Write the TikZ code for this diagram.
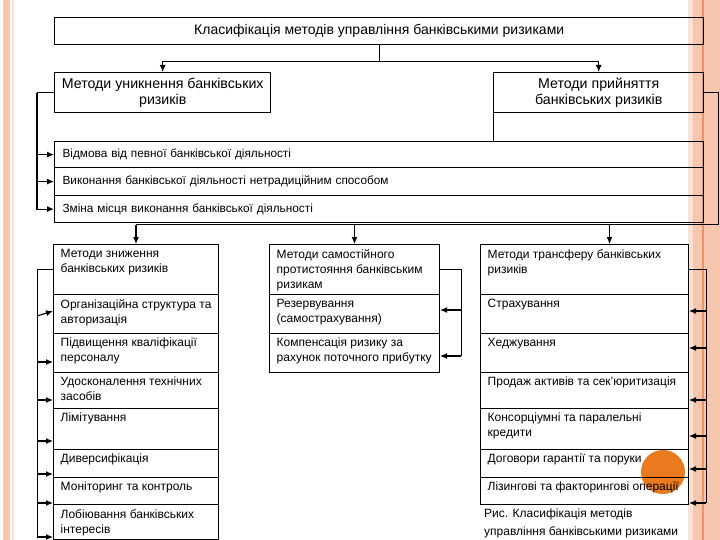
\documentclass[tikz,border=0pt]{standalone}
\usepackage{fontspec}
\setmainfont{Liberation Sans}
\usetikzlibrary{positioning,arrows.meta}
\definecolor{stripe}{HTML}{F7C6AE}
\definecolor{stripelight}{HTML}{FBE2D5}
\definecolor{stripeline}{HTML}{EC9467}
\definecolor{dot}{HTML}{E97A1F}

\begin{document}
\begin{tikzpicture}[x=1pt, y=-1pt,
    box/.style={draw, line width=1.4pt, anchor=north west, inner sep=0pt, align=center},
    row/.style={draw, line width=1.2pt, anchor=north west, minimum width=649, text width=633,
                inner xsep=8pt, align=left, font=\fontsize{11.8}{14}\selectfont},
    cell/.style={draw, line width=1pt, anchor=north west, inner sep=0pt},
    celltext/.style={anchor=north west, align=left, inner xsep=7.5pt, inner ysep=5pt,
                     font=\fontsize{12}{15}\selectfont},
    arr/.style={line width=1.1pt, -{Latex[length=7pt,width=6pt]}},
    wire/.style={line width=1pt}]
  \useasboundingbox (0,0) rectangle (720,540);
  \fill[stripe] (3,0) rectangle (10,540);
  \fill[stripelight] (12,0) rectangle (14,540);
  \fill[stripelight] (688,0) rectangle (693,540);
  \fill[stripe] (693,0) rectangle (720,540);
  \draw[stripeline, line width=1.5pt] (703,0) -- (703,540);
  \fill[dot] (663,472) circle (22);

  \node[box, minimum width=649, minimum height=27, font=\fontsize{14}{16}\selectfont] (title) at (54,17)
    {Класифікація методів управління банківськими ризиками};
  \node[box, minimum width=216, minimum height=40, font=\fontsize{14.2}{16.5}\selectfont] (avoid) at (54,72)
    {Методи уникнення банківських\\ризиків};
  \node[box, minimum width=210, minimum height=40, font=\fontsize{14.2}{16.5}\selectfont] (accept) at (493,72)
    {Методи прийняття\\банківських ризиків};

  \node[row, minimum height=26] (r1) at (54,141) {Відмова від певної банківської діяльності};
  \node[row, minimum height=28] (r2) at (54,167) {Виконання банківської діяльності нетрадиційним способом};
  \node[row, minimum height=27] (r3) at (54,195) {Зміна місця виконання банківської діяльності};

  \foreach \n/\y/\h/\txt in {z0/244/50/{Методи зниження\\банківських ризиків},
      z1/294/39/{Організаційна структура та\\авторизація},
      z2/333/39/{Підвищення кваліфікації\\персоналу},
      z3/372/36/{Удосконалення технічних\\засобів},
      z4/408/41/{Лімітування},
      z5/449/28/{Диверсифікація},
      z6/477/27/{Моніторинг та контроль},
      z7/504/35/{Лобіювання банківських\\інтересів}}
  {
    \node[cell, minimum width=165, minimum height=\h] (\n) at (53,\y) {};
    \node[celltext] (\n-t) at (\n.north west) {\txt};
  }
  \foreach \n/\y/\h/\txt in {m0/244/50/{Методи самостійного\\протистояння банківським\\ризикам},
      m1/294/39/{Резервування\\(самострахування)},
      m2/333/39/{Компенсація ризику за\\рахунок поточного прибутку}}
  {
    \node[cell, minimum width=170, minimum height=\h] (\n) at (269,\y) {};
    \node[celltext] (\n-t) at (\n.north west) {\txt};
  }
  \foreach \n/\y/\h/\txt in {t0/244/50/{Методи трансферу банківських\\ризиків},
      t1/294/39/{Страхування},
      t2/333/39/{Хеджування},
      t3/372/36/{Продаж активів та сек'юритизація},
      t4/408/41/{Консорціумні та паралельні\\кредити},
      t5/449/28/{Договори гарантії та поруки},
      t6/477/27/{Лізингові та факторингові операції}}
  {
    \node[cell, minimum width=208, minimum height=\h] (\n) at (480,\y) {};
    \node[celltext] (\n-t) at (\n.north west) {\txt};
  }
  \node[anchor=north west, align=left, inner xsep=4pt, inner ysep=4pt,
        font=\fontsize{12}{18}\selectfont] (caption) at (t6.south west)
    {Рис. Класифікація методів\\управління банківськими ризиками};

  \draw[wire] (title.south) -- ++(0,16) coordinate (split);
  \draw[arr] (split) -| (avoid.north);
  \draw[arr] (split) -| (accept.north);

  \draw[wire] (avoid.west) -- ++(-17,0) coordinate (ltop);
  \foreach \n in {r1,r2,r3}
    \draw[arr] (ltop) |- (\n.west);
  \draw[wire] (accept.south west) -- (accept.south west |- r1.north);
  \draw[wire] (accept.east) -- ++(14,0) -- ++(0,132) coordinate (bus) -- (bus -| z0.north);
  \coordinate (t0in) at ([xshift=25pt]t0.north);
  \draw[arr] (bus -| z0.north) -- (z0.north);
  \draw[arr] (bus -| m0.north) -- (m0.north);
  \draw[arr] (bus -| t0in) -- (t0in);

  \draw[wire] (z0.west) -| ([xshift=-16pt,yshift=3pt]z7.south west);
  \draw[arr] (z1.south west) ++(-16,-18) -- ++(16,-5);
  \foreach \n/\d in {z2/11, z3/9, z4/9, z5/4, z6/2, z7/3}
    \draw[arr] (\n.south west) ++(-16,-\d) -- ++(16,0);

  \draw[wire] (m0.east) -| ([xshift=21pt,yshift=17pt]m2.south east);
  \foreach \n/\d in {m1/24, m2/17}
    \draw[arr] (\n.south east) ++(21,-\d) -- ++(-21,0);

  \draw[wire] (t0.east) -| ([xshift=17pt,yshift=2pt]t6.south east);
  \foreach \n/\d in {t1/23, t2/25, t3/9, t4/14, t5/9, t6/2}
    \draw[arr] (\n.south east) ++(17,-\d) -- ++(-17,0);
\end{tikzpicture}
\end{document}
